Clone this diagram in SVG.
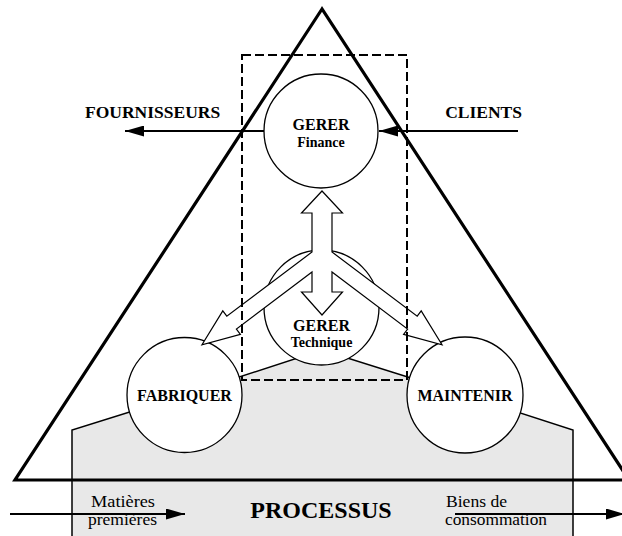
<svg xmlns="http://www.w3.org/2000/svg" width="622" height="536" viewBox="0 0 622 536">
<defs>
<style>
.bold{font-family:"Liberation Serif","Times New Roman",serif;font-weight:bold;fill:#000}
.reg{font-family:"Liberation Serif","Times New Roman",serif;fill:#000}
.node{fill:#fff;stroke:#000;stroke-width:1.3}
.conn{stroke:#000;stroke-width:2;fill:none}
</style>
<marker id="ah" viewBox="0 0 19 11" refX="19" refY="5.5" markerWidth="19" markerHeight="11" markerUnits="userSpaceOnUse" orient="auto">
<path d="M0,0 L19,5.5 L0,11 Z" fill="#000"/>
</marker>
</defs>
<rect width="622" height="536" fill="#fff"/>
<g id="processus">
<polygon points="72,537 72,430 184,395 322,350 465,395 573,430 573,537" fill="#e8e8e8" stroke="#000" stroke-width="1.5"/>
<text class="bold" x="321" y="518" font-size="24" text-anchor="middle">PROCESSUS</text>
<text class="reg" x="91" y="507" font-size="16" textLength="64" lengthAdjust="spacingAndGlyphs">Matières</text>
<text class="reg" x="88" y="525" font-size="16" textLength="69" lengthAdjust="spacingAndGlyphs">premières</text>
<text class="reg" x="446" y="507" font-size="16" textLength="61" lengthAdjust="spacingAndGlyphs">Biens de</text>
<text class="reg" x="445" y="525" font-size="16" textLength="102" lengthAdjust="spacingAndGlyphs">consommation</text>
</g>
<g id="triangle">
<polygon points="322,9 15,480 629,480" fill="none" stroke="#000" stroke-width="3.2" stroke-linejoin="miter"/>
</g>
<g id="gerer-finance">
<circle class="node" cx="321" cy="131" r="57"/>
<text class="bold" x="321" y="130" font-size="16" text-anchor="middle">GERER</text>
<text class="bold" x="321" y="147" font-size="14" text-anchor="middle">Finance</text>
</g>
<g id="gerer-technique">
<circle class="node" cx="321.5" cy="307.5" r="57.5"/>
<text class="bold" x="321.5" y="331" font-size="16" text-anchor="middle">GERER</text>
<text class="bold" x="321.5" y="347" font-size="14" text-anchor="middle">Technique</text>
</g>
<g id="fabriquer">
<circle class="node" cx="184.5" cy="395" r="57.5"/>
<text class="bold" x="184.5" y="401" font-size="16" text-anchor="middle">FABRIQUER</text>
</g>
<g id="maintenir">
<circle class="node" cx="465" cy="395" r="58"/>
<text class="bold" x="465" y="401" font-size="16" text-anchor="middle">MAINTENIR</text>
</g>
<g id="fournisseurs">
<text class="bold" x="85" y="118" font-size="17.5">FOURNISSEURS</text>
</g>
<g id="clients">
<text class="bold" x="522" y="118" font-size="17.5" text-anchor="end">CLIENTS</text>
</g>
<g id="connectors">
<polygon points="322,191 342.5,213 332,213 332,252 417.2,316.2 421.2,310.9 442,344.8 403.6,334.3 407.6,329 332,272 332,292 342.5,292 322,315 301.5,292 312,292 312,272 236.4,329 240.4,334.3 202,344.8 222.8,310.9 226.8,316.2 312,252 312,213 301.5,213" fill="#fff" stroke="#000" stroke-width="1.2" stroke-linejoin="miter"/>
<line class="conn" x1="264" y1="131" x2="125" y2="131" marker-end="url(#ah)"/>
<line class="conn" x1="518" y1="131" x2="379" y2="131" marker-end="url(#ah)"/>
<line class="conn" x1="10" y1="514" x2="185" y2="514" marker-end="url(#ah)"/>
<line class="conn" x1="455" y1="514" x2="625" y2="514" marker-end="url(#ah)"/>
</g>
<g id="frame">
<rect x="242" y="55" width="165" height="325" fill="none" stroke="#000" stroke-width="2" stroke-dasharray="9 4"/>
</g>
</svg>
